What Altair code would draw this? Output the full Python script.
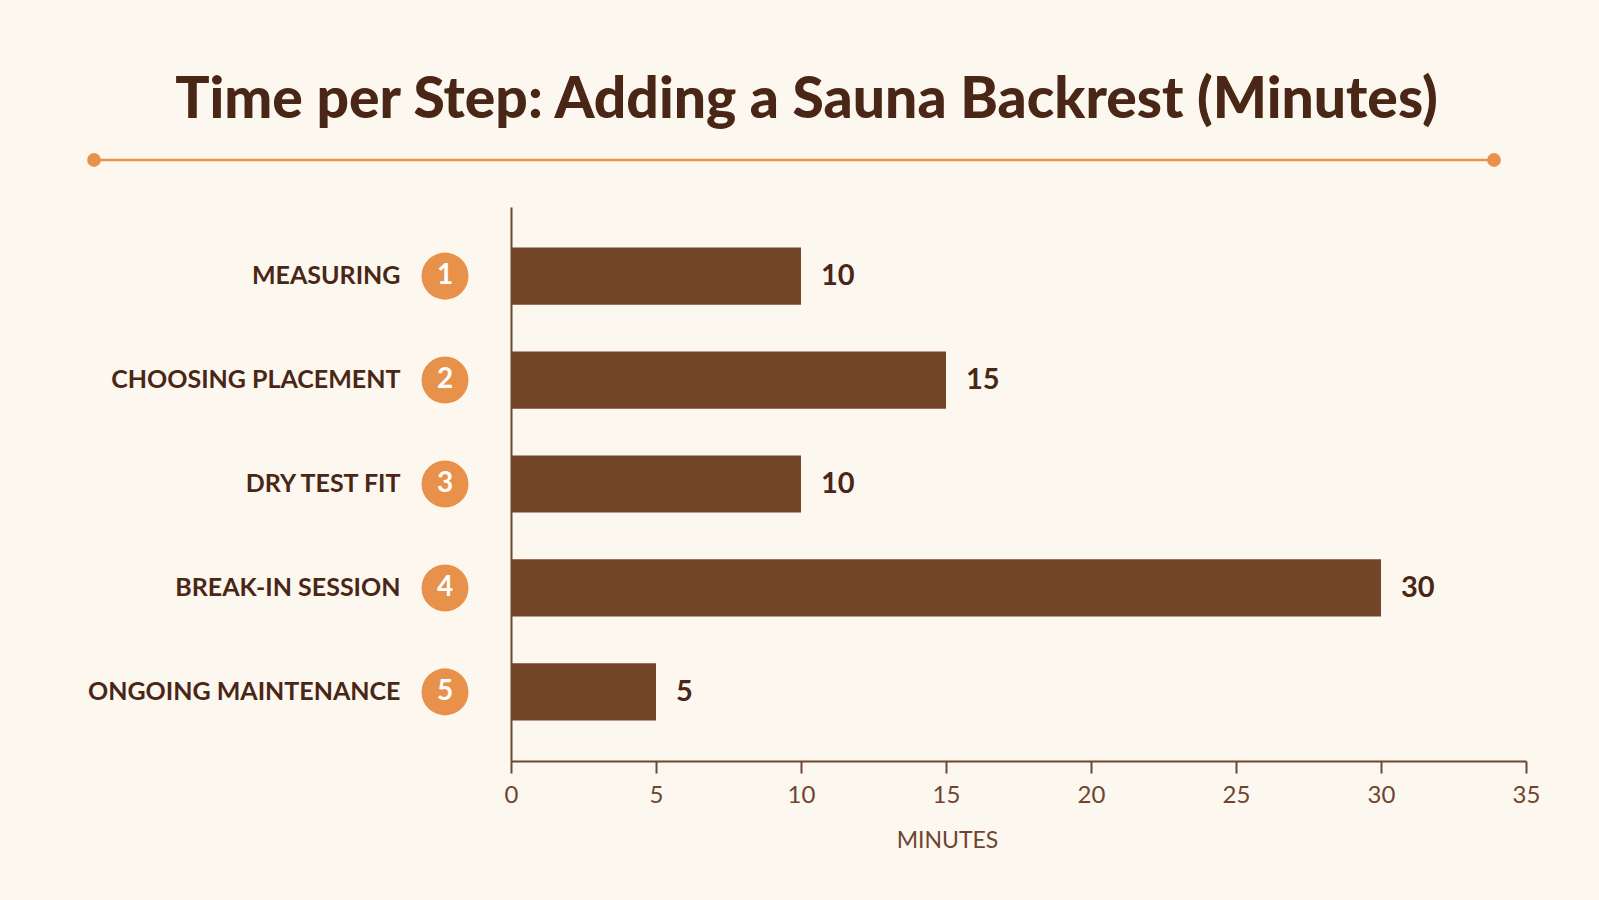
import altair as alt
import pandas as pd

steps = ["MEASURING", "CHOOSING PLACEMENT", "DRY TEST FIT", "BREAK-IN SESSION", "ONGOING MAINTENANCE"]
step_numbers = ["1", "2", "3", "4", "5"]
minutes = [10, 15, 10, 30, 5]
x_ticks = [0, 5, 10, 15, 20, 25, 30, 35]

BG = "#fcf7ef"
BAR = "#744629"
ORANGE = "#e8914a"
DARK = "#4a2616"
AXIS = "#6e4630"
FONT = "Lato"

df = pd.DataFrame({"step": steps, "num": step_numbers, "minutes": minutes})

y_enc = alt.Y("step:N", sort=steps, title=None,
              scale=alt.Scale(paddingInner=0.45, paddingOuter=0.39),
              axis=alt.Axis(labelFont=FONT, labelFontSize=25, labelFontWeight="bold",
                            labelColor=DARK, labelPadding=111, ticks=False,
                            domainColor=AXIS, domainWidth=2, labelLimit=400))
x_enc = alt.X("minutes:Q", title="MINUTES",
              scale=alt.Scale(domain=[0, 35], nice=False),
              axis=alt.Axis(values=x_ticks, grid=False, labelFont=FONT, labelFontSize=24,
                            labelColor=AXIS, labelPadding=10, labelFlush=False,
                            tickSize=12, tickColor=AXIS,
                            tickWidth=2, domainColor=AXIS, domainWidth=2,
                            titleFont=FONT, titleFontSize=23, titleFontWeight="normal",
                            titleColor=AXIS, titleX=436, titleY=86,
                            titleBaseline="alphabetic", titleAlign="center"))

bars = alt.Chart(df).mark_bar(color=BAR).encode(x=x_enc, y=y_enc)

values = alt.Chart(df).mark_text(align="left", baseline="middle", dx=20, font=FONT,
                                 fontSize=29, fontWeight="bold", color=DARK).encode(
    x="minutes:Q", y=alt.Y("step:N", sort=steps), text="minutes:Q")

badges = alt.Chart(df).mark_circle(color=ORANGE, opacity=1, size=2209).encode(
    x=alt.value(-66), y=alt.Y("step:N", sort=steps))

badge_nums = alt.Chart(df).mark_text(align="center", baseline="middle", font=FONT,
                                     fontSize=28, fontWeight="bold", color="white").encode(
    x=alt.value(-66), y=alt.Y("step:N", sort=steps), text="num:N")

deco = pd.DataFrame({"k": [0]})
divider = alt.Chart(deco).mark_rule(color=ORANGE, strokeWidth=2.5).encode(
    x=alt.value(-417), x2=alt.value(983), y=alt.value(-47))
dot_left = alt.Chart(deco).mark_circle(color=ORANGE, opacity=1, size=190).encode(
    x=alt.value(-417), y=alt.value(-47))
dot_right = alt.Chart(deco).mark_circle(color=ORANGE, opacity=1, size=190).encode(
    x=alt.value(983), y=alt.value(-47))

chart = alt.layer(bars, values, badges, badge_nums, divider, dot_left, dot_right).properties(
    width=1015, height=554,
    title=alt.TitleParams("Time per Step: Adding a Sauna Backrest (Minutes)",
                          font=FONT, fontSize=57, fontWeight=900, color=DARK,
                          anchor="middle", frame="group", dx=-212, offset=90, dy=112,
                          baseline="alphabetic"),
    autosize=alt.AutoSizeParams(type="none"),
    padding={"left": 511, "top": 207, "right": 73, "bottom": 139},
    background=BG,
).configure_view(stroke=None)

chart.save("out.html", embed_options={"renderer": "svg", "actions": False})
